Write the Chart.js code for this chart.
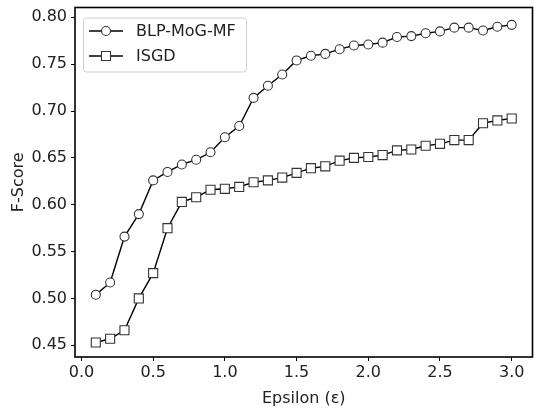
<!DOCTYPE html>
<html>
<head>
<meta charset="utf-8">
<script src="https://cdn.jsdelivr.net/npm/chart.js@4/dist/chart.umd.min.js"></script>
<style>
body{margin:0;background:#fff;}
canvas{display:block;}
</style>
</head>
<body>
<canvas id="chart" width="540" height="408"></canvas>
<script>
// epsilon values on the x axis
const eps = [0.1,0.2,0.3,0.4,0.5,0.6,0.7,0.8,0.9,1.0,1.1,1.2,1.3,1.4,1.5,1.6,1.7,1.8,1.9,2.0,2.1,2.2,2.3,2.4,2.5,2.6,2.7,2.8,2.9,3.0];

const blpScores = [0.504,0.517,0.566,0.590,0.626,0.635,0.643,0.648,0.656,0.672,0.684,0.714,0.727,0.739,0.754,0.759,0.761,0.766,0.770,0.771,0.773,0.779,0.780,0.783,0.785,0.789,0.789,0.786,0.790,0.792];
const isgdScores = [0.453,0.457,0.466,0.500,0.527,0.575,0.603,0.608,0.616,0.617,0.619,0.624,0.626,0.629,0.634,0.639,0.641,0.647,0.650,0.651,0.653,0.658,0.659,0.663,0.665,0.669,0.669,0.687,0.690,0.692];

const xTicks = [0.0,0.5,1.0,1.5,2.0,2.5,3.0];
const yTicks = [0.45,0.50,0.55,0.60,0.65,0.70,0.75,0.80];

const seriesNames = ["BLP-MoG-MF","ISGD"];

const FONT = "'DejaVu Sans', sans-serif";

function toPoints(values){
return values.map((v,i)=>({x:eps[i],y:v}));
}

// draws the box around the plot area
const framePlugin = {
id:"frame",
afterDatasetsDraw(chart){
const a = chart.chartArea;
const ctx = chart.ctx;
ctx.save();
ctx.strokeStyle = "#000";
ctx.lineWidth = 1.6;
ctx.strokeRect(a.left, a.top, a.right - a.left, a.bottom - a.top);
ctx.restore();
}
};

// matplotlib style legend inside the plot, upper left
const innerLegend = {
id:"innerLegend",
afterDraw(chart){
const ctx = chart.ctx;
const a = chart.chartArea;
const bx = a.left + 8, by = a.top + 10, bw = 163, bh = 54;
ctx.save();
ctx.fillStyle = "rgba(255,255,255,0.85)";
ctx.strokeStyle = "#d0d0d0";
ctx.lineWidth = 1;
ctx.beginPath();
ctx.roundRect(bx + 0.5, by + 0.5, bw, bh, 3);
ctx.fill();
ctx.stroke();

chart.data.datasets.forEach((ds, i) => {
const y = by + 13.5 + i * 25;
const x0 = bx + 6, x1 = bx + 40;
ctx.strokeStyle = ds.borderColor;
ctx.lineWidth = ds.borderWidth;
ctx.beginPath();
ctx.moveTo(x0, y);
ctx.lineTo(x1, y);
ctx.stroke();
ctx.fillStyle = ds.pointBackgroundColor;
ctx.strokeStyle = ds.pointBorderColor;
ctx.lineWidth = ds.pointBorderWidth;
Chart.helpers.drawPoint(ctx, {pointStyle: ds.pointStyle, radius: ds.pointRadius, rotation: 0, borderWidth: ds.pointBorderWidth}, (x0 + x1) / 2, y);
ctx.fillStyle = "#222";
ctx.font = "16px " + FONT;
ctx.textBaseline = "middle";
ctx.textAlign = "left";
ctx.fillText(ds.label, bx + 53, y + 1);
});
ctx.restore();
}
};

function makeSet(label, values, style, radius){
return {
label: label,
data: toPoints(values),
borderColor: "#000",
borderWidth: 1.4,
pointStyle: style,
pointRadius: radius,
pointHoverRadius: radius,
pointBackgroundColor: "#fff",
pointBorderColor: "#333",
pointBorderWidth: 1.1,
tension: 0
};
}

new Chart(document.getElementById("chart"), {
type: "line",
data: {
datasets: [
makeSet(seriesNames[0], blpScores, "circle", 4.5),
makeSet(seriesNames[1], isgdScores, "rect", 6.4)
]
},
options: {
responsive: false,
animation: false,
events: [],
layout: {padding: {top: 5, right: 3, left: 0, bottom: 0}},
plugins: {legend: {display: false}, tooltip: {enabled: false}},
scales: {
x: {
type: "linear",
min: -0.045,
max: 3.145,
afterBuildTicks(scale){ scale.ticks = xTicks.map(v => ({value: v})); },
afterFit(scale){ scale.height = 51; scale.paddingLeft = 0; scale.paddingRight = 0; },
grid: {display: true, drawOnChartArea: false, drawTicks: true, tickLength: 4, color: "#000", lineWidth: 1},
border: {display: false},
ticks: {
color: "#222",
padding: 2,
maxRotation: 0,
autoSkip: false,
font: {family: FONT, size: 16},
callback: v => v.toFixed(1)
},
title: {display: true, text: "Epsilon (ε)", color: "#222", font: {family: FONT, size: 16}, padding: {top: 0, bottom: 0}}
},
y: {
type: "linear",
min: 0.4375,
max: 0.8105,
afterBuildTicks(scale){ scale.ticks = yTicks.map(v => ({value: v})); },
afterFit(scale){ scale.width = 75; scale.paddingTop = 0; scale.paddingBottom = 0; },
grid: {display: true, drawOnChartArea: false, drawTicks: true, tickLength: 4, color: "#000", lineWidth: 1},
border: {display: false},
ticks: {
color: "#222",
padding: 4,
autoSkip: false,
font: {family: FONT, size: 16},
callback: v => v.toFixed(2)
},
title: {display: true, text: "F-Score", color: "#222", font: {family: FONT, size: 16}, padding: {top: 9, bottom: 0}}
}
}
},
plugins: [framePlugin, innerLegend]
});
</script>
</body>
</html>
